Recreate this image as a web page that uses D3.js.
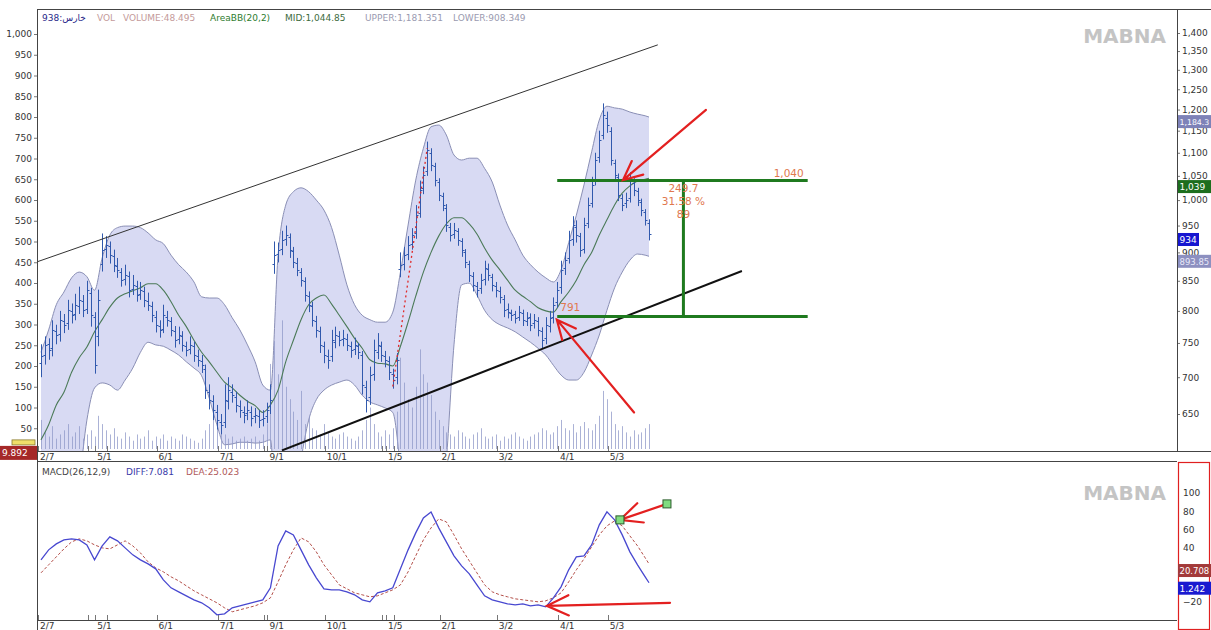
<!DOCTYPE html>
<html><head><meta charset="utf-8">
<script src="https://cdn.jsdelivr.net/npm/d3@7"></script>
<style>
body{margin:0;background:#fff;}
svg{display:block;}
text{font-family:"DejaVu Sans",Verdana,sans-serif;}
</style>
</head><body>
<svg id="c" width="1211" height="630"></svg>
<script>
// ---------- DATA ----------
const N = 160;
const xTickIdx = [0,15,31,47,60,75,91,105,120,136,149];
const xTickLabels = ["2/7","5/1","6/1","7/1","9/1","10/1","1/5","2/1","3/2","4/1","5/3"];
const xMinorTickIdx = [13,18,59,90,93];

const opens = [720,732,748,742,768,764,784,780,800,795,808,816,803,830,790,760,880,906,912,893,
876,866,853,858,836,841,828,832,816,808,791,776,772,791,784,768,756,760,745,741,
745,730,723,712,680,667,653,640,640,667,680,673,660,653,651,653,647,647,644,647,
660,880,897,906,925,928,902,881,866,849,824,808,784,768,745,730,730,752,760,756,
756,745,741,745,732,686,672,705,737,745,730,723,705,700,870,880,898,916,935,975,
1025,1060,1100,1070,1038,1008,985,948,934,940,920,900,880,858,841,838,853,870,857,841,
832,819,803,796,795,791,796,784,791,780,784,768,758,776,791,815,840,872,890,925,
948,930,906,955,995,1040,1090,1140,1180,1150,1078,1048,1005,994,1005,1035,1018,996,976,955];
const highs = [748,760,757,785,778,800,795,818,812,828,840,826,850,838,798,835,935,930,920,905,
890,872,878,866,860,850,848,840,830,815,800,785,810,800,790,776,775,768,752,760,
752,740,732,718,690,675,662,650,690,700,690,680,668,660,668,660,658,655,655,665,
690,920,918,940,950,935,910,890,872,856,832,815,792,775,752,740,770,775,768,770,
764,752,758,750,738,695,715,755,765,752,738,730,712,735,900,910,930,945,990,1040,
1070,1125,1110,1078,1045,1015,992,955,955,945,926,906,885,865,848,862,885,880,862,848,
840,826,812,802,800,808,802,798,796,795,790,774,790,800,822,848,885,900,940,968,
960,936,965,1005,1048,1100,1150,1215,1195,1158,1085,1055,1012,1015,1058,1045,1025,1003,982,962];
const lows = [700,718,725,730,748,752,765,770,780,785,795,790,795,775,705,745,866,890,880,865,
855,840,842,822,826,815,818,806,800,782,766,758,765,775,760,743,748,737,730,733,
722,715,706,670,656,642,630,624,632,656,665,652,645,638,642,634,638,632,634,638,
650,862,882,895,912,890,872,858,840,815,798,775,758,735,720,712,722,742,745,745,
738,728,732,726,676,652,662,695,726,722,714,696,684,690,856,868,886,905,925,965,
1012,1050,1060,1028,998,978,938,920,925,912,892,872,848,832,822,828,842,850,832,822,
812,790,788,784,780,784,776,776,768,772,760,742,748,766,780,805,828,860,880,912,
918,892,898,945,985,1030,1078,1130,1145,1072,1040,998,978,984,995,1008,988,968,950,922];
const closes = [730,747,739,770,762,786,778,801,793,810,818,801,834,793,717,818,904,914,895,878,
869,851,860,834,843,826,834,818,810,793,778,770,793,786,770,754,762,747,739,747,
732,725,717,682,669,655,642,636,669,682,675,662,655,649,655,645,649,642,645,655,
669,895,904,923,932,904,883,869,851,826,810,786,770,747,732,725,754,762,754,758,
747,739,747,736,689,669,703,739,747,732,725,707,696,725,878,895,914,932,970,1021,
1052,1106,1073,1041,1010,990,951,932,942,923,904,883,860,843,834,851,872,860,843,834,
822,801,798,793,789,798,786,789,778,786,770,754,778,789,810,834,869,886,923,951,
932,904,951,990,1031,1084,1129,1187,1163,1084,1052,1010,990,1000,1041,1021,1000,980,961,934];
const volumes = [70,40,30,55,25,35,45,60,30,40,55,25,35,45,30,
80,60,45,35,50,30,
25,40,30,20,35,25,30,45,20,30,
25,35,20,30,25,20,35,30,25,20,15,25,45,60,120,50,40,
35,25,30,20,25,30,20,25,30,20,35,60,205,
260,180,310,150,120,90,70,140,60,80,50,45,35,60,40,
30,25,35,40,30,25,20,30,45,70,100,60,40,30,45,35,50,90,
220,160,120,100,150,240,180,160,130,90,70,55,40,35,30,45,40,
30,25,35,40,50,30,25,30,35,20,30,25,35,40,30,25,20,30,35,40,50,45,35,40,55,
70,50,45,60,40,55,65,50,45,60,80,140,120,90,60,45,55,40,30,45,35,40,50,60];

// Bollinger band (every 2nd bar)
const bbUpper = [736,770,810,831,855,865,857,834,890,932,946,949,949,946,936,923,916,895,878,865,
848,823,821,821,810,789,770,747,722,689,682,895,990,1017,1025,1017,1000,980,946,895,
843,810,793,786,782,782,798,865,951,1041,1110,1159,1163,1140,1095,1084,1088,1088,1066,1037,
990,951,923,895,878,865,855,848,869,918,970,1031,1102,1175,1208,1204,1201,1194,1189,1185,1182];
const bbMid = [617,636,662,679,707,728,744,767,786,806,821,828,833,838,845,845,834,815,793,775,
754,736,722,707,693,685,675,667,661,652,662,682,722,754,786,810,821,826,811,793,
775,757,742,725,720,719,716,745,782,824,865,900,930,953,965,965,953,934,908,886,
869,851,834,824,815,805,800,798,815,831,851,878,900,932,961,990,1014,1029,1039,1043,1045];
const bbLower = [515,504,504,515,531,569,642,685,692,689,682,696,713,736,751,747,745,739,732,722,
713,702,671,636,611,612,614,614,613,614,617,484,484,525,592,642,669,682,689,693,
696,689,675,666,662,658,652,581,484,465,456,465,515,592,747,843,846,826,801,786,
778,773,767,759,751,742,732,717,703,696,696,707,732,762,801,838,865,886,897,895,893];

// MACD (every 2nd bar)
const macdDiff = [26.4,37.4,44,48.4,49.5,48.4,42.9,26.4,41.8,51.7,47.3,39.6,31.9,26.4,22,16.5,4.4,-4.4,-8.8,-13.2,
-17.6,-20.9,-26.4,-34.1,-33,-26.4,-24.2,-22,-19.8,-17.6,-4.4,41.8,58.3,53.9,37.4,20.9,6.6,-5.5,-6.6,-6.6,
-8.8,-12.1,-17.6,-19.8,-9.9,-7.7,-4.4,16.5,37.4,56.1,72.6,79.2,61.6,46.2,30.8,19.8,11,-1.1,-13.2,-17.6,
-19.8,-22,-23.1,-22,-24.2,-23.1,-25.3,-15.4,-3.3,15.4,29.7,30.8,42.9,64.9,79.2,70.4,53.9,35.2,20.9,7.7,1.2];
const macdDea = [12.1,20.9,29.7,38.5,46.2,49.5,47.3,42.9,39.6,38.5,42.9,47.3,41.8,34.1,24.2,17.6,13.2,7.7,3.3,-2.2,
-7.7,-12.1,-16.5,-20.9,-26.4,-30.8,-28.6,-26.4,-24.2,-20.9,-15.4,2.2,20.9,37.4,50.6,46.2,35.2,20.9,9.9,-1.1,
-5.5,-9.9,-12.1,-14.3,-13.2,-9.9,-6.6,-1.1,13.2,30.8,48.4,61.6,71.5,68.2,53.9,38.5,25.3,12.1,-1.1,-8.8,
-12.1,-14.3,-16.5,-17.6,-18.7,-19.8,-18.7,-15.4,-9.9,2.2,15.4,27.5,40.7,53.9,63.8,69.3,63.8,52.8,41.8,28.6,22];

// axis ticks
const volTicks = [50,100,150,200,250,300,350,400,450,500,550,600,650,700,750,800,850,900,950,1000];
const priceTicks = [650,700,750,800,850,900,950,1000,1050,1100,1150,1200,1250,1300,1350,1400];
const macdTicks = [-20,40,60,80,100];

// annotations (bar index, price)
const upperTrend = [[-1.05,883],[161.3,1367]];
const lowerTrend = [[63,604],[183.3,867]];
const dottedRise = [[92,687],[101,1110]];
const levelPrices = [1040,791];
const levelIdx = [135,200.5];
const levelMidIdx = 168;
const levelTexts = ["249.7","31.58 %","89"];
const priceArrows = [ {tip:[152.2,1041], tail:[173.9,1199]}, {tip:[134.9,786], tail:[155.1,652]} ];
const macdArrows = [ {tip:[132.3,-24.2], tail:[164.5,-20.9]}, {tip:[151.4,70.4], tail:[163.7,88]} ];
const macdSquares = [[151.4,70.4],[163.7,88]];

const headerItems = [
  {t:"938:خارس", x:42, c:"#2a2a8a"},
  {t:"VOL", x:97, c:"#c49a9a"},
  {t:"VOLUME:48.495", x:123, c:"#c49a9a"},
  {t:"AreaBB(20,2)", x:210, c:"#2e7d2e"},
  {t:"MID:1,044.85", x:285, c:"#3d6b3d"},
  {t:"UPPER:1,181.351", x:365, c:"#9a9ab0"},
  {t:"LOWER:908.349", x:453, c:"#9a9ab0"}
];
const macdHeader = [
  {t:"MACD(26,12,9)", x:42, c:"#444"},
  {t:"DIFF:7.081", x:126, c:"#3a3aa8"},
  {t:"DEA:25.023", x:186, c:"#b05a5a"}
];
const priceBoxes = [
  {v:1184.3, t:"1,184.3", bg:"#7e82b8", fg:"#fff", fs:7.8},
  {v:1039, t:"1,039", bg:"#1d6e1d", fg:"#fff"},
  {v:934, t:"934", bg:"#1616d0", fg:"#fff", w:21},
  {v:893.85, t:"893.85", bg:"#8d90c0", fg:"#e8e8f8", fs:8.5}
];
const macdBoxes = [
  {v:20.708, t:"20.708", bg:"#a33a3a", fg:"#fff", fs:8.5},
  {v:1.242, t:"1.242", bg:"#1a1ad0", fg:"#fff"}
];

// ---------- LAYOUT ----------
const L=37, R=1177, T=9, B1=451, T2=461, B2=620, W=1211, H=630;
const svg = d3.select("#c");
const x = d3.scaleLinear().domain([0,N-1]).range([41,649]);
const yP = d3.scaleLog().domain([650,1400]).range([414,33]);
const yV = d3.scaleLinear().domain([0,1000]).range([449,34]);
const yM = d3.scaleLinear().domain([-20,100]).range([602,493]);
const px = i => Math.round(x(i))+0.5;

const defs = svg.append("defs");
defs.append("clipPath").attr("id","cp").append("rect").attr("x",L).attr("y",T).attr("width",R-L).attr("height",B1-T);
defs.append("clipPath").attr("id","cm").append("rect").attr("x",L).attr("y",T2).attr("width",R-L).attr("height",B2-T2);

// ---------- PRICE PANEL ----------
const gP = svg.append("g").attr("clip-path","url(#cp)");
const bIdx = bbUpper.map((d,k)=>Math.min(k*2,N-1));
gP.append("path").datum(bIdx)
  .attr("d", d3.area().x(i=>x(i)).y0((i,k)=>yP(bbLower[k])).y1((i,k)=>yP(bbUpper[k])).curve(d3.curveMonotoneX))
  .attr("fill","#d8daf3");
[bbUpper,bbLower].forEach(arr=>{
  gP.append("path").datum(bIdx)
    .attr("d", d3.line().x(i=>x(i)).y((i,k)=>yP(arr[k])).curve(d3.curveMonotoneX))
    .attr("fill","none").attr("stroke","#8a8fb5").attr("stroke-width",1);
});
// volume
gP.selectAll("line.vol").data(volumes).join("line").attr("class","vol")
  .attr("x1",(d,i)=>px(i)).attr("x2",(d,i)=>px(i))
  .attr("y1",yV(0)).attr("y2",d=>yV(d))
  .attr("stroke","#8f98c8").attr("stroke-opacity",0.75).attr("stroke-width",1);
// mid line
gP.append("path").datum(bIdx)
  .attr("d", d3.line().x(i=>x(i)).y((i,k)=>yP(bbMid[k])).curve(d3.curveMonotoneX))
  .attr("fill","none").attr("stroke","#4b7a58").attr("stroke-width",1.1);
// OHLC bars
gP.selectAll("path.bar").data(d3.range(N)).join("path").attr("class","bar")
  .attr("d", i=>{const c=px(i); return `M${c},${yP(highs[i])}V${yP(lows[i])}M${c-2},${Math.round(yP(opens[i]))+0.5}H${c}M${c},${Math.round(yP(closes[i]))+0.5}H${c+2}`;})
  .attr("fill","none").attr("stroke","#3159ad").attr("stroke-width",1);

// trend lines
const tl = d3.line().x(d=>x(d[0])).y(d=>yP(d[1]));
gP.append("path").datum(upperTrend).attr("d",tl).attr("stroke","#333").attr("stroke-width",1).attr("fill","none");
gP.append("path").datum(lowerTrend).attr("d",tl).attr("stroke","#111").attr("stroke-width",2).attr("fill","none");
gP.append("path").datum(dottedRise).attr("d",tl).attr("stroke","#e02a2a").attr("stroke-width",1.3).attr("stroke-dasharray","2,3").attr("fill","none");

// levels
levelPrices.forEach(p=>{
  gP.append("line").attr("x1",x(levelIdx[0])).attr("x2",x(levelIdx[1])).attr("y1",yP(p)).attr("y2",yP(p))
    .attr("stroke","#1f7a1f").attr("stroke-width",3);
});
gP.append("line").attr("x1",x(levelMidIdx)).attr("x2",x(levelMidIdx)).attr("y1",yP(levelPrices[0])).attr("y2",yP(levelPrices[1]))
  .attr("stroke","#1f7a1f").attr("stroke-width",3);
const annColor = "#e0784e";
gP.append("text").attr("x",x(levelIdx[1])-4).attr("y",yP(levelPrices[0])-4).attr("text-anchor","end")
  .attr("font-size",10.5).attr("fill",annColor).text(d3.format(",")(levelPrices[0]));
levelTexts.forEach((t,k)=>{
  gP.append("text").attr("x",x(levelMidIdx)).attr("y",yP(levelPrices[0])+11+13*k).attr("text-anchor","middle")
    .attr("font-size",10.5).attr("fill",annColor).text(t);
});
gP.append("text").attr("x",x(levelIdx[0])+3).attr("y",yP(levelPrices[1])-6)
  .attr("font-size",10.5).attr("fill",annColor).text(levelPrices[1]);

// arrows
function arrow(g, tip, tail, len){
  const dx=tail[0]-tip[0], dy=tail[1]-tip[1];
  const a=Math.atan2(dy,dx), s=25*Math.PI/180;
  const b1=[tip[0]+len*Math.cos(a+s), tip[1]+len*Math.sin(a+s)];
  const b2=[tip[0]+len*Math.cos(a-s), tip[1]+len*Math.sin(a-s)];
  g.append("path").attr("d",`M${tail[0]},${tail[1]}L${tip[0]},${tip[1]}M${b1[0]},${b1[1]}L${tip[0]},${tip[1]}L${b2[0]},${b2[1]}`)
    .attr("stroke","#e32020").attr("stroke-width",2.2).attr("fill","none").attr("stroke-linecap","round");
}
priceArrows.forEach(a=>arrow(gP,[x(a.tip[0]),yP(a.tip[1])],[x(a.tail[0]),yP(a.tail[1])],21));

// MABNA watermark
svg.append("text").attr("x",1166).attr("y",43).attr("text-anchor","end").attr("font-size",20).attr("font-weight","bold")
  .attr("fill","#c4c4c4").text("MABNA");

// header
headerItems.forEach(h=>svg.append("text").attr("x",h.x).attr("y",21).attr("font-size",9).attr("fill",h.c).text(h.t));

// ---------- MACD PANEL ----------
const gM = svg.append("g").attr("clip-path","url(#cm)");
gM.append("path").datum(bIdx).attr("d", d3.line().x(i=>x(i)).y((i,k)=>yM(macdDea[k])))
  .attr("fill","none").attr("stroke","#b4504a").attr("stroke-width",1).attr("stroke-dasharray","3,2");
gM.append("path").datum(bIdx).attr("d", d3.line().x(i=>x(i)).y((i,k)=>yM(macdDiff[k])))
  .attr("fill","none").attr("stroke","#4848d0").attr("stroke-width",1.3);
macdArrows.forEach(a=>arrow(gM,[x(a.tip[0]),yM(a.tip[1])],[x(a.tail[0]),yM(a.tail[1])],24));
gM.selectAll("rect.sq").data(macdSquares).join("rect").attr("class","sq")
  .attr("x",d=>x(d[0])-4).attr("y",d=>yM(d[1])-4).attr("width",8).attr("height",8)
  .attr("fill","#80dc80").attr("stroke","#2d5d2d").attr("stroke-width",1);
macdHeader.forEach(h=>svg.append("text").attr("x",h.x).attr("y",475).attr("font-size",9).attr("fill",h.c).text(h.t));
svg.append("text").attr("x",1166).attr("y",500).attr("text-anchor","end").attr("font-size",20).attr("font-weight","bold")
  .attr("fill","#c4c4c4").text("MABNA");

// ---------- AXES ----------
function styleAxis(g){
  g.selectAll("text").attr("font-size",9).attr("fill","#333").attr("font-family","DejaVu Sans");
  g.selectAll("line").attr("stroke","#777");
  g.select(".domain").remove();
}
svg.append("g").attr("transform",`translate(${L},0)`)
  .call(d3.axisLeft(yV).tickValues(volTicks).tickFormat(d3.format(",")).tickSize(3).tickPadding(2)).call(styleAxis);
svg.append("g").attr("transform",`translate(${R},0)`)
  .call(d3.axisRight(yP).tickValues(priceTicks).tickFormat(d3.format(",")).tickSize(3).tickPadding(2)).call(styleAxis);
svg.append("g").attr("transform",`translate(${R+1},0)`)
  .call(d3.axisRight(yM).tickValues(macdTicks).tickFormat(d3.format("d")).tickSize(0).tickPadding(5)).call(styleAxis);

// x axes
function xAxis(yLine, yText){
  const g = svg.append("g");
  g.selectAll("line.t").data(xTickIdx.concat(xMinorTickIdx)).join("line")
    .attr("x1",d=>px(d)-3).attr("x2",d=>px(d)-3).attr("y1",yLine).attr("y2",yLine-5).attr("stroke","#777");
  g.selectAll("text").data(xTickIdx).join("text")
    .attr("x",d=>x(d)-1).attr("y",yText).attr("font-size",9).attr("fill","#333").text((d,k)=>xTickLabels[k]);
}
xAxis(B1, 460);
xAxis(B2, 629);

// frame lines
const fr = svg.append("g").attr("stroke","#444").attr("stroke-width",1).attr("shape-rendering","crispEdges");
fr.append("line").attr("x1",L).attr("x2",W).attr("y1",T).attr("y2",T);
fr.append("line").attr("x1",L).attr("x2",L).attr("y1",T).attr("y2",H);
fr.append("line").attr("x1",R).attr("x2",R).attr("y1",T).attr("y2",B1);
fr.append("line").attr("x1",L).attr("x2",W).attr("y1",B1).attr("y2",B1);
fr.append("line").attr("x1",L).attr("x2",R).attr("y1",T2).attr("y2",T2);
fr.append("line").attr("x1",L).attr("x2",R).attr("y1",B2).attr("y2",B2);
svg.append("rect").attr("x",R+1.5).attr("y",T2+1.5).attr("width",W-R-3).attr("height",H-T2-2)
  .attr("fill","none").attr("stroke","#e02020").attr("stroke-width",1.2);

// value boxes
function box(yv, b){
  const w=b.w||33;
  svg.append("rect").attr("x",R+1).attr("y",yv-1).attr("width",w).attr("height",13).attr("fill",b.bg);
  svg.append("text").attr("x",R+2.5).attr("y",yv+9).attr("font-size",b.fs||9).attr("fill",b.fg).text(b.t);
}
priceBoxes.forEach(b=>box(yP(b.v),b));
macdBoxes.forEach(b=>box(yM(b.v),b));
// left volume marker
svg.append("rect").attr("x",12).attr("y",yV(9.892)-5).attr("width",23).attr("height",5).attr("fill","#efe06a").attr("stroke","#8a7a30").attr("stroke-width",0.8);
svg.append("rect").attr("x",0).attr("y",yV(9.892)+1).attr("width",L).attr("height",14).attr("fill","#a52828");
svg.append("text").attr("x",2).attr("y",yV(9.892)+11).attr("font-size",9).attr("fill","#fff").text("9.892");
</script>
</body></html>
